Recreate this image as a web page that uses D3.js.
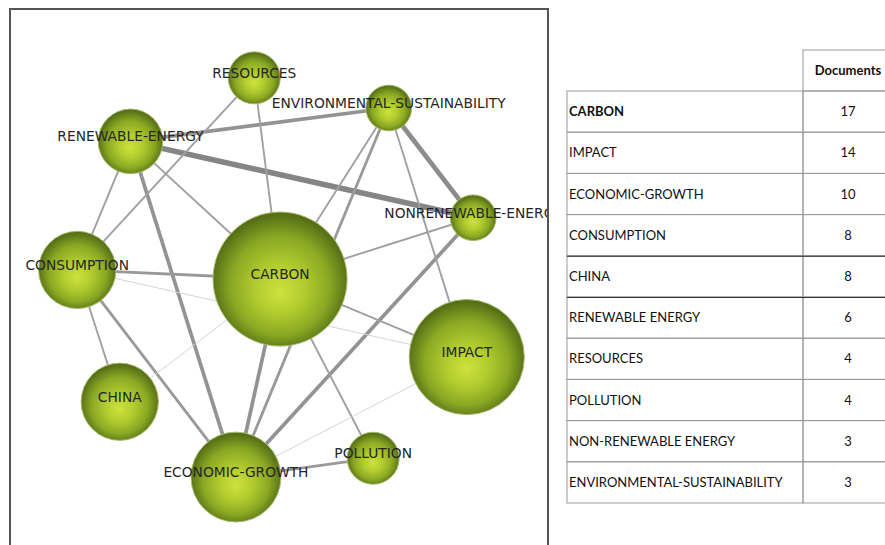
<!DOCTYPE html>
<html>
<head>
<meta charset="utf-8">
<script src="https://cdn.jsdelivr.net/npm/d3@7"></script>
<style>
  body { margin: 0; background: #fff; }
</style>
</head>
<body>
<div id="chart"></div>
<script>
// keywords, their document counts and the map layout (0-100 map units)
var keywords = ["CARBON", "IMPACT", "ECONOMIC-GROWTH", "CONSUMPTION", "CHINA",
  "RENEWABLE-ENERGY", "RESOURCES", "POLLUTION", "NONRENEWABLE-ENERGY", "ENVIRONMENTAL-SUSTAINABILITY"];
var documents = [17, 14, 10, 8, 8, 6, 4, 4, 3, 3];
var mapX = [50.2, 84.9, 42.0, 12.5, 20.4, 22.4, 45.4, 67.5, 86.1, 70.4];
var mapY = [50.2, 64.7, 87.0, 48.5, 73.0, 24.6, 12.8, 83.5, 38.8, 18.4];

// co-occurrence links: [source, target, strength]
var links = [
  ["RENEWABLE-ENERGY", "NONRENEWABLE-ENERGY", 6],
  ["ENVIRONMENTAL-SUSTAINABILITY", "NONRENEWABLE-ENERGY", 5],
  ["NONRENEWABLE-ENERGY", "ECONOMIC-GROWTH", 4],
  ["RENEWABLE-ENERGY", "ENVIRONMENTAL-SUSTAINABILITY", 4],
  ["RENEWABLE-ENERGY", "ECONOMIC-GROWTH", 4],
  ["CARBON", "ECONOMIC-GROWTH", 4],
  ["ENVIRONMENTAL-SUSTAINABILITY", "ECONOMIC-GROWTH", 3],
  ["CONSUMPTION", "CARBON", 3],
  ["CONSUMPTION", "ECONOMIC-GROWTH", 3],
  ["ECONOMIC-GROWTH", "POLLUTION", 3],
  ["ENVIRONMENTAL-SUSTAINABILITY", "CARBON", 2],
  ["RESOURCES", "CONSUMPTION", 2],
  ["RESOURCES", "CARBON", 2],
  ["RENEWABLE-ENERGY", "CONSUMPTION", 2],
  ["RENEWABLE-ENERGY", "CARBON", 2],
  ["CONSUMPTION", "CHINA", 2],
  ["NONRENEWABLE-ENERGY", "CARBON", 2],
  ["ENVIRONMENTAL-SUSTAINABILITY", "IMPACT", 2],
  ["CARBON", "POLLUTION", 2],
  ["CARBON", "IMPACT", 2],
  ["CONSUMPTION", "IMPACT", 1],
  ["CHINA", "CARBON", 1],
  ["ECONOMIC-GROWTH", "IMPACT", 1]
];

// table rows
var tableLabels = ["CARBON", "IMPACT", "ECONOMIC-GROWTH", "CONSUMPTION", "CHINA",
  "RENEWABLE ENERGY", "RESOURCES", "POLLUTION", "NON-RENEWABLE ENERGY", "ENVIRONMENTAL-SUSTAINABILITY"];
var tableHeader = "Documents";

function drawMap(svg) {
  var frame = {x: 10, y: 9, w: 538, h: 560};

  var x = d3.scaleLinear().domain([0, 100]).range([frame.x, frame.x + 538]);
  var y = d3.scaleLinear().domain([0, 100]).range([frame.y, frame.y + 538]);
  var r = d3.scaleLinear().domain([4, 17]).range([26, 67]);
  var w = d3.scaleLinear().domain([1, 6]).range([1, 5.5]);
  var c = d3.scaleLinear().domain([1, 2, 6]).range(["#d4d4d4", "#a0a0a0", "#858585"]);

  var nodes = keywords.map(function(k, i) {
    return {name: k, docs: documents[i], x: x(mapX[i]), y: y(mapY[i])};
  });
  var byName = {};
  nodes.forEach(function(n) { byName[n.name] = n; });

  var defs = svg.append("defs");
  defs.append("clipPath")
      .attr("id", "frameClip")
    .append("rect")
      .attr("x", frame.x)
      .attr("y", frame.y)
      .attr("width", frame.w)
      .attr("height", frame.h);

  var grad = defs.append("radialGradient")
      .attr("id", "ball")
      .attr("cx", "50%").attr("cy", "53%").attr("r", "51%")
      .attr("fx", "50%").attr("fy", "60%");
  grad.append("stop").attr("offset", "0%").attr("stop-color", "#cde33c");
  grad.append("stop").attr("offset", "35%").attr("stop-color", "#b3cd2f");
  grad.append("stop").attr("offset", "72%").attr("stop-color", "#8aa823");
  grad.append("stop").attr("offset", "100%").attr("stop-color", "#566f16");

  var g = svg.append("g").attr("clip-path", "url(#frameClip)");

  g.selectAll(".link")
      .data(links)
      .enter()
      .append("line")
      .attr("class", "link")
      .attr("x1", function(d) { return byName[d[0]].x; })
      .attr("y1", function(d) { return byName[d[0]].y; })
      .attr("x2", function(d) { return byName[d[1]].x; })
      .attr("y2", function(d) { return byName[d[1]].y; })
      .style("stroke", function(d) { return c(d[2]); })
      .style("stroke-width", function(d) { return w(d[2]); });

  g.selectAll(".node")
      .data(nodes)
      .enter()
      .append("circle")
      .attr("class", "node")
      .attr("cx", function(d) { return d.x; })
      .attr("cy", function(d) { return d.y; })
      .attr("r", function(d) { return r(d.docs); })
      .style("fill", "url(#ball)")
      .style("stroke", "#a5b86a")
      .style("stroke-width", 1);

  g.selectAll(".label")
      .data(nodes)
      .enter()
      .append("text")
      .attr("class", "label")
      .attr("x", function(d) { return d.x; })
      .attr("y", function(d) { return d.y; })
      .style("text-anchor", "middle")
      .style("font-family", "'DejaVu Sans', Verdana, sans-serif")
      .style("font-size", "13.8px")
      .style("fill", "#262626")
      .text(function(d) { return d.name; });

  svg.append("rect")
      .attr("x", frame.x)
      .attr("y", frame.y)
      .attr("width", frame.w)
      .attr("height", frame.h)
      .style("fill", "none")
      .style("stroke", "#555")
      .style("stroke-width", 2);
}

function drawTable(svg) {
  var left = 567, split = 803, right = 893;
  var headTop = 50;

  var row = d3.scaleBand()
      .domain(tableLabels)
      .range([91, 503]);

  var t = svg.append("g")
      .style("font-family", "Lato, 'Open Sans', sans-serif")
      .style("font-size", "13px")
      .style("fill", "#111");

  // header cell
  t.append("rect")
      .attr("x", split)
      .attr("y", headTop)
      .attr("width", right - split)
      .attr("height", row.range()[0] - headTop)
      .style("fill", "none")
      .style("stroke", "#9a9a9a");

  t.append("text")
      .attr("x", (split + right) / 2)
      .attr("y", (headTop + row.range()[0]) / 2)
      .attr("dy", "0.35em")
      .style("text-anchor", "middle")
      .style("font-weight", "bold")
      .text(tableHeader);

  var rows = t.selectAll(".row")
      .data(tableLabels)
      .enter()
      .append("g")
      .attr("class", "row")
      .attr("transform", function(d) { return "translate(0," + row(d) + ")"; });

  rows.append("rect")
      .attr("x", left)
      .attr("width", split - left)
      .attr("height", row.bandwidth())
      .style("fill", "none")
      .style("stroke", "#9a9a9a");

  rows.append("rect")
      .attr("x", split)
      .attr("width", right - split)
      .attr("height", row.bandwidth())
      .style("fill", "none")
      .style("stroke", "#9a9a9a");

  rows.append("text")
      .attr("x", left + 2)
      .attr("y", row.bandwidth() / 2)
      .attr("dy", "0.35em")
      .style("font-weight", function(d, i) { return i === 0 ? "bold" : "normal"; })
      .text(function(d) { return d; });

  rows.append("text")
      .attr("x", (split + right) / 2)
      .attr("y", row.bandwidth() / 2)
      .attr("dy", "0.35em")
      .style("text-anchor", "middle")
      .text(function(d, i) { return documents[i]; });

  // the darker rules Word left between some rows
  t.selectAll(".rule")
      .data(["CHINA", "RENEWABLE ENERGY"])
      .enter()
      .append("line")
      .attr("class", "rule")
      .attr("x1", left)
      .attr("x2", right)
      .attr("y1", function(d) { return row(d) + 0.5; })
      .attr("y2", function(d) { return row(d) + 0.5; })
      .style("stroke", "#333")
      .style("stroke-width", 1);
}

function drawChart() {
  var svg = d3.select("#chart").append("svg")
      .attr("width", 885)
      .attr("height", 545)
      .attr("style", "background-color: #fff; display: block;");

  drawMap(svg);
  drawTable(svg);
}

drawChart();
</script>
</body>
</html>
